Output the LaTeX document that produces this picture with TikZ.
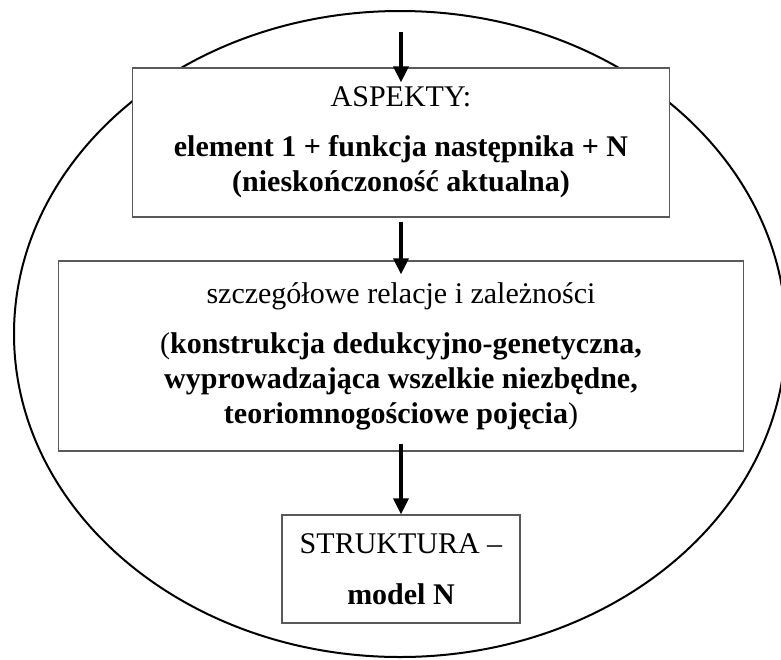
\documentclass[tikz,border=0pt]{standalone}
\usepackage{fontspec}
\setmainfont{Liberation Serif}
\usetikzlibrary{arrows.meta}

\tikzset{
  box/.style={draw=black!65, fill=white, line width=0.6pt, align=center, inner sep=0pt,
    font=\fontsize{15}{17.5}\selectfont},
  arr/.style={-{Triangle[width=7.5pt,length=8pt]}, line width=1.6pt},
}

\begin{document}
\begin{tikzpicture}[x=0.5pt, y=-0.5pt]
  \useasboundingbox (0,0) rectangle (781,659);

  \draw[line width=1pt] (400,334) ellipse [x radius=386, y radius=323];

  \begin{scope}
    \node[box, minimum width=268.5pt, minimum height=74.5pt] (aspekty) at (401,142.5)
      {ASPEKTY:\\[7.5pt]
       \textbf{element 1 + funkcja następnika + N}\\
       \textbf{(nieskończoność aktualna)}};
    \node[box, minimum width=342.5pt, minimum height=95pt] (relacje) at (401,356)
      {szczegółowe relacje i zależności\\[7.5pt]
       (\textbf{konstrukcja dedukcyjno-genetyczna,}\\
       \textbf{wyprowadzająca wszelkie niezbędne,}\\
       \textbf{teoriomnogościowe pojęcia})};
    \node[box, minimum width=119pt, minimum height=54pt] (struktura) at (401,569)
      {STRUKTURA --\\[8pt]
       \textbf{model N}};
  \end{scope}

  \coordinate (wejscie) at (401,32);
  \draw[arr, shorten >=-7.5pt] (wejscie) -- (aspekty.north);
  \draw[arr, shorten <=2pt, shorten >=-7pt] (aspekty.south) -- (relacje.north);
  \draw[arr, shorten <=-4pt] (relacje.south) -- (struktura.north);

\end{tikzpicture}
\end{document}
